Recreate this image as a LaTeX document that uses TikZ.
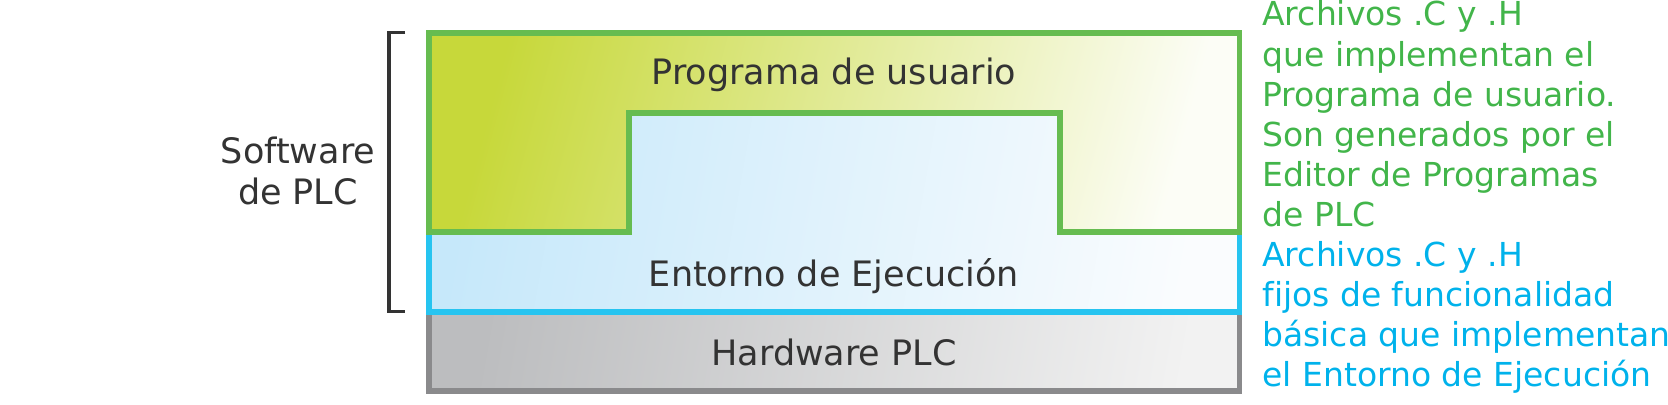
\documentclass[tikz,border=0pt]{standalone}
\usepackage{fontspec}
\setmainfont[Ligatures=NoCommon]{DejaVu Sans}
\definecolor{gline}{RGB}{102,188,80}
\definecolor{bline}{RGB}{38,196,240}
\definecolor{hline}{RGB}{138,138,140}
\definecolor{gtext}{RGB}{66,181,74}
\definecolor{btext}{RGB}{0,178,235}
\definecolor{dtext}{RGB}{51,51,51}
\definecolor{gfillL}{RGB}{199,216,58}
\definecolor{gfillR}{RGB}{252,253,246}
\definecolor{bfillL}{RGB}{198,232,250}
\definecolor{bfillR}{RGB}{250,252,254}
\definecolor{hfillL}{RGB}{188,189,191}
\definecolor{hfillR}{RGB}{242,242,242}
\tikzset{
  layerline/.style={line width=2.75pt, line join=miter},
  maintext/.style={font=\fontsize{17.5}{21}\selectfont, text=dtext, inner sep=0pt, anchor=base},
  sidetext/.style={font=\fontsize{16.5}{20}\selectfont, inner sep=0pt, anchor=base west},
}
\begin{document}
\begin{tikzpicture}[x=0.5pt,y=-0.5pt]
\useasboundingbox (0,0) rectangle (1668,405);
% fills
\shade[left color=hfillL, right color=hfillR, shading angle=80] (429,312) rectangle (1239.5,391);
\shade[left color=bfillL, right color=bfillR, shading angle=80] (429,33) rectangle (1239.5,312);
\shade[left color=gfillL, right color=gfillR, shading angle=75]
  (429,33) -- (1239.5,33) -- (1239.5,232) -- (1060,232) -- (1060,113) -- (629,113) -- (629,232) -- (429,232) -- cycle;
% outlines
\draw[layerline, hline] (429,312) -- (429,391) -- (1239.5,391) -- (1239.5,312);
\draw[layerline, bline] (429,232) -- (429,312) -- (1239.5,312) -- (1239.5,232);
\draw[layerline, gline]
  (429,33) -- (1239.5,33) -- (1239.5,232) -- (1060,232) -- (1060,113) -- (629,113) -- (629,232) -- (429,232) -- cycle;
% bracket
\coordinate (brt) at (405,32.3);
\coordinate (brb) at (405,311.7);
\draw[line width=1.65pt, dtext] (brt) -- (389,32.3) -- (389,311.7) -- (brb);
% texts
\node[maintext] (soft1) at (298,164) {Software};
\node[maintext] (soft2) at (298,205) {de PLC};
\node[maintext] (prog) at (834,85) {Programa de usuario};
\node[maintext] (ent) at (834,287) {Entorno de Ejecución};
\node[maintext] (hw) at (834,365) {Hardware PLC};
\node[sidetext, text=gtext] (g1) at (1262,26) {Archivos .C y .H};
\node[sidetext, text=gtext] (g2) at (1262,66.1) {que implementan el};
\node[sidetext, text=gtext] (g3) at (1262,106.2) {Programa de usuario.};
\node[sidetext, text=gtext] (g4) at (1262,146.3) {Son generados por el};
\node[sidetext, text=gtext] (g5) at (1262,186.4) {Editor de Programas};
\node[sidetext, text=gtext] (g6) at (1262,226.5) {de PLC};
\node[sidetext, text=btext] (b1) at (1262,266.6) {Archivos .C y .H};
\node[sidetext, text=btext] (b2) at (1262,306.7) {fijos de funcionalidad};
\node[sidetext, text=btext] (b3) at (1262,346.8) {básica que implementan};
\node[sidetext, text=btext] (b4) at (1262,386.9) {el Entorno de Ejecución};
\end{tikzpicture}
\end{document}
